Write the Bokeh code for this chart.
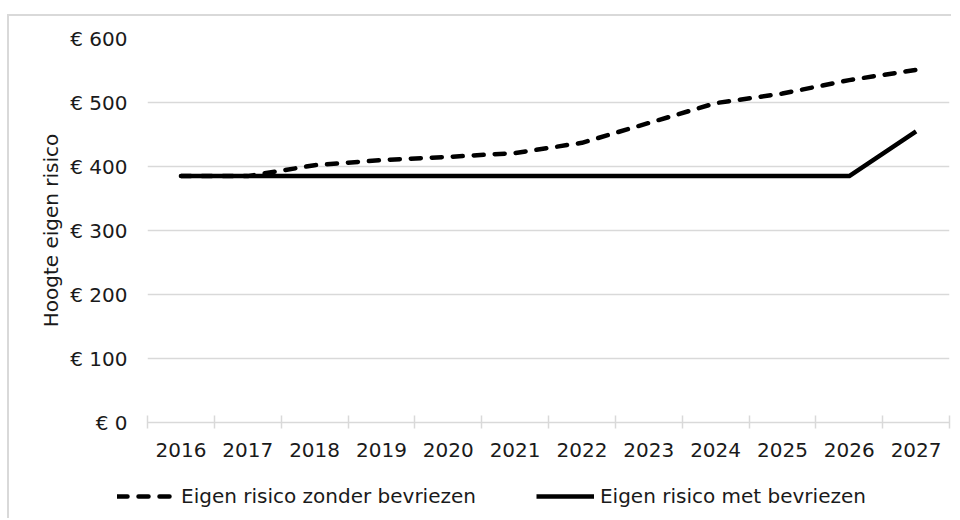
from bokeh.plotting import figure
from bokeh.layouts import column
from bokeh.models import Legend, LegendItem, FixedTicker, ColumnDataSource, Range1d
from bokeh.embed import file_html
from bokeh.resources import INLINE

years = [2016, 2017, 2018, 2019, 2020, 2021, 2022, 2023, 2024, 2025, 2026, 2027]
zonder = [385, 385, 402, 410, 415, 421, 437, 468, 499, 514, 535, 551]
met = [385, 385, 385, 385, 385, 385, 385, 385, 385, 385, 385, 455]
y_ticks = [0, 100, 200, 300, 400, 500, 600]
y_tick_labels = ["€ 0", "€ 100", "€ 200", "€ 300", "€ 400", "€ 500", "€ 600"]
series_names = ["Eigen risico zonder bevriezen", "Eigen risico met bevriezen"]
y_title = "Hoogte eigen risico"

FONT = "DejaVu Sans"
TXT = "#1a1a1a"
GRID = "#d9d9d9"
DASH = "10 11"
LW = 4.5

src = ColumnDataSource(dict(year=years, zonder=zonder, met=met))

p = figure(frame_width=800, frame_height=382, output_backend="svg", toolbar_location=None,
           x_range=(years[0] - 0.5, years[-1] + 0.5), y_range=(0, 600),
           min_border_top=22, min_border_right=4, min_border_left=138,
           min_border_bottom=50)
p.outline_line_color = None
p.background_fill_color = "white"
p.border_fill_color = "white"
p.styles = {"margin-left": "7px", "margin-top": "14px",
            "border-left": "2px solid #d9d9d9", "border-top": "2px solid #d9d9d9"}

r1 = p.line("year", "zonder", source=src, line_color="black", line_width=LW,
            line_dash=DASH, line_cap="round", line_join="round")
r2 = p.line("year", "met", source=src, line_color="black", line_width=LW,
            line_join="round")

p.xgrid.grid_line_color = None
p.ygrid.grid_line_color = GRID
p.ygrid.grid_line_width = 1.5
p.ygrid.ticker = FixedTicker(ticks=y_ticks)

xa = p.xaxis[0]
xa.ticker = FixedTicker(ticks=years, minor_ticks=[y - 0.5 for y in years] + [years[-1] + 0.5])
xa.major_label_overrides = {y: str(y) for y in years}
xa.axis_line_color = GRID
xa.axis_line_width = 1.5
xa.major_tick_line_color = None
xa.minor_tick_line_color = GRID
xa.minor_tick_line_width = 1.5
xa.minor_tick_in = 7
xa.minor_tick_out = 6
xa.major_label_standoff = 14
xa.major_label_text_font = FONT
xa.major_label_text_font_size = "20px"
xa.major_label_text_color = TXT

ya = p.yaxis[0]
ya.ticker = FixedTicker(ticks=y_ticks)
ya.major_label_overrides = {v: t for v, t in zip(y_ticks, y_tick_labels)}
ya.axis_line_color = None
ya.major_tick_line_color = None
ya.minor_tick_line_color = None
ya.major_label_standoff = 14
ya.major_label_text_font = FONT
ya.major_label_text_font_size = "20px"
ya.major_label_text_color = TXT
ya.axis_label = y_title
ya.axis_label_text_font = FONT
ya.axis_label_text_font_style = "normal"
ya.axis_label_text_font_size = "20px"
ya.axis_label_text_color = TXT
ya.axis_label_standoff = 4

# Legend strip below the chart (series drawn outside its visible range,
# only their legend glyphs show)
lg = figure(frame_width=942, frame_height=48, output_backend="svg", toolbar_location=None,
            x_range=Range1d(0, 1), y_range=Range1d(0, 1),
            min_border=0)
lg.axis.visible = False
lg.grid.visible = False
lg.outline_line_color = None
lg.background_fill_color = "white"
lg.border_fill_color = "white"
lg.styles = {"margin-left": "7px", "border-left": "2px solid #d9d9d9"}
l1 = lg.line("year", "zonder", source=src, line_color="black", line_width=LW,
             line_dash=DASH, line_cap="round")
l2 = lg.line("year", "met", source=src, line_color="black", line_width=LW)

legend = Legend(items=[LegendItem(label=series_names[0], renderers=[l1]),
                       LegendItem(label=series_names[1], renderers=[l2])],
                orientation="horizontal", location=(108, 10),
                label_text_font=FONT, label_text_font_size="20px",
                label_text_color=TXT, glyph_width=58, label_standoff=6,
                spacing=60, border_line_color=None, background_fill_alpha=0,
                margin=0, padding=4)
lg.add_layout(legend, "center")

layout = column(p, lg, spacing=0)
open("out.html", "w").write(file_html(layout, INLINE))
